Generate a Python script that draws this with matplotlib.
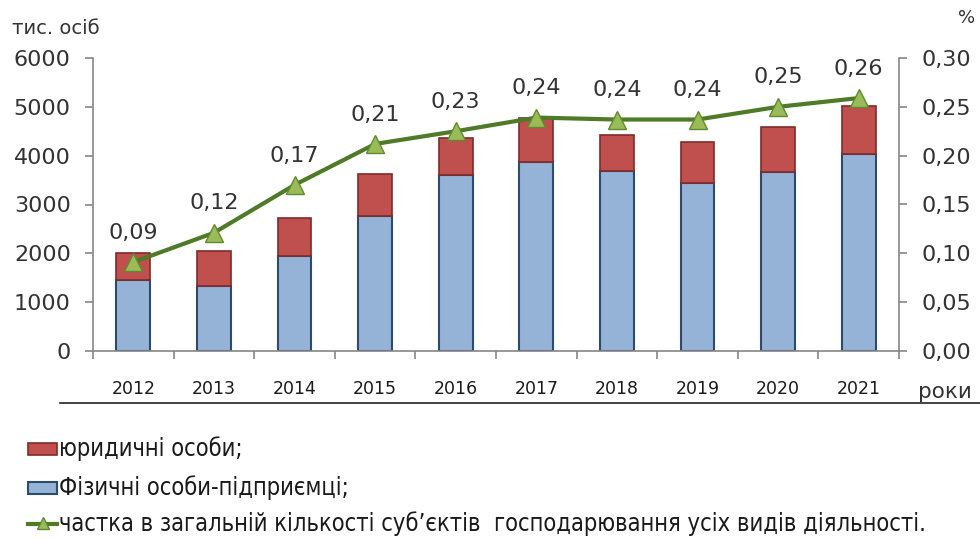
import numpy as np
import matplotlib.pyplot as plt
from matplotlib.lines import Line2D
from matplotlib.patches import Rectangle

years = ['2012', '2013', '2014', '2015', '2016', '2017', '2018', '2019', '2020', '2021']
fop = [1460, 1330, 1950, 2770, 3600, 3870, 3690, 3450, 3660, 4030]
legal_total = [2000, 2050, 2720, 3630, 4360, 4780, 4420, 4270, 4590, 5020]
legal = [t - f for t, f in zip(legal_total, fop)]
share = [0.091, 0.121, 0.170, 0.212, 0.225, 0.239, 0.237, 0.237, 0.250, 0.259]
share_labels = ['0,09', '0,12', '0,17', '0,21', '0,23', '0,24', '0,24', '0,24', '0,25', '0,26']
left_ticks = [0, 1000, 2000, 3000, 4000, 5000, 6000]
right_ticks = ['0,00', '0,05', '0,10', '0,15', '0,20', '0,25', '0,30']

fig = plt.figure(figsize=(9.8, 5.4), dpi=100)
ax = fig.add_axes([93 / 980, 1 - 351 / 540, 806 / 980, 293 / 540])
ax2 = ax.twinx()

x = np.arange(len(years))
ax.bar(x, fop, width=0.42, color='#95B3D7', edgecolor='#2E4A6E', linewidth=1.5, zorder=2)
ax.bar(x, legal, width=0.42, bottom=fop, color='#C0504D', edgecolor='#7F2B29', linewidth=1.2, zorder=2)

ax.set_xlim(-0.5, len(years) - 0.5)
ax.set_ylim(0, 6000)
ax.set_yticks(left_ticks)
ax.set_yticklabels([str(v) for v in left_ticks], fontsize=16, color='#333333')
ax.set_xticks(np.arange(len(years) + 1) - 0.5, minor=False)
ax.set_xticklabels([])
ax.set_xticks(x, minor=True)
ax.set_xticklabels(years, minor=True, fontsize=12.5, color='#1a1a1a')
ax.tick_params(axis='x', which='major', length=6, color='#868686', width=1.2)
ax.tick_params(axis='x', which='minor', length=0, pad=21)
ax.tick_params(axis='y', length=6, color='#868686', width=1.2, pad=10)
for s in ['top', 'right']:
    ax.spines[s].set_visible(False)
for s in ['left', 'bottom']:
    ax.spines[s].set_color('#868686')
    ax.spines[s].set_linewidth(1.2)

ax2.plot(x, share, color='#4F7A28', linewidth=3, marker='^', markersize=13,
         markerfacecolor='#9BBB59', markeredgecolor='#5F8A2F', zorder=3)
for xi, v, lab in zip(x, share, share_labels):
    ax2.annotate(lab, (xi, v), xytext=(0, 14), textcoords='offset points',
                 ha='center', va='bottom', fontsize=16, color='#333333')
ax2.set_ylim(0, 0.30)
ax2.set_yticks(np.linspace(0, 0.30, 7))
ax2.set_yticklabels(right_ticks, fontsize=16, color='#333333')
ax2.tick_params(axis='y', length=6, color='#868686', width=1.2, pad=10)
for s in ['top', 'left', 'bottom']:
    ax2.spines[s].set_visible(False)
ax2.spines['right'].set_color('#868686')
ax2.spines['right'].set_linewidth(1.2)

fig.text(12 / 980, 1 - 28 / 540, 'тис. осіб', fontsize=14, color='#333333', va='center')
fig.text(958 / 980, 1 - 18 / 540, '%', fontsize=13, color='#333333', va='center')
fig.text(918 / 980, 1 - 392 / 540, 'роки', fontsize=15.5, color='#333333', va='center')
fig.add_artist(Line2D([60 / 980, 1.0], [1 - 403 / 540, 1 - 403 / 540],
                      color='#222222', linewidth=1.2, transform=fig.transFigure))

# legend drawn by hand, rows at 449, 488, 524 px from the top
labels = ['юридичні особи;', 'Фізичні особи-підприємці;',
          'частка в загальній кількості суб\u2019єктів  господарювання усіх видів діяльності.']
rows = [449, 488, 524]
W, H = 980, 540
fig.add_artist(Rectangle((28 / W, 1 - 455 / H), 29 / W, 12 / H, transform=fig.transFigure,
                         facecolor='#C0504D', edgecolor='#7F2B29', linewidth=1.2))
fig.add_artist(Rectangle((28 / W, 1 - 494 / H), 29 / W, 12 / H, transform=fig.transFigure,
                         facecolor='#95B3D7', edgecolor='#2E4A6E', linewidth=1.5))
fig.add_artist(Line2D([28 / W, 57 / W], [1 - 524 / H] * 2, transform=fig.transFigure,
                      color='#4F7A28', linewidth=3))
fig.add_artist(Line2D([42.5 / W], [1 - 523 / H], transform=fig.transFigure, marker='^',
                      markersize=8, markerfacecolor='#9BBB59', markeredgecolor='#5F8A2F'))
for r, lab in zip(rows, labels):
    fig.text(59 / W, 1 - r / H, lab, fontsize=17, fontstretch='condensed',
             color='#1a1a1a', va='center', ha='left')

fig.savefig('out.png', dpi=100)
